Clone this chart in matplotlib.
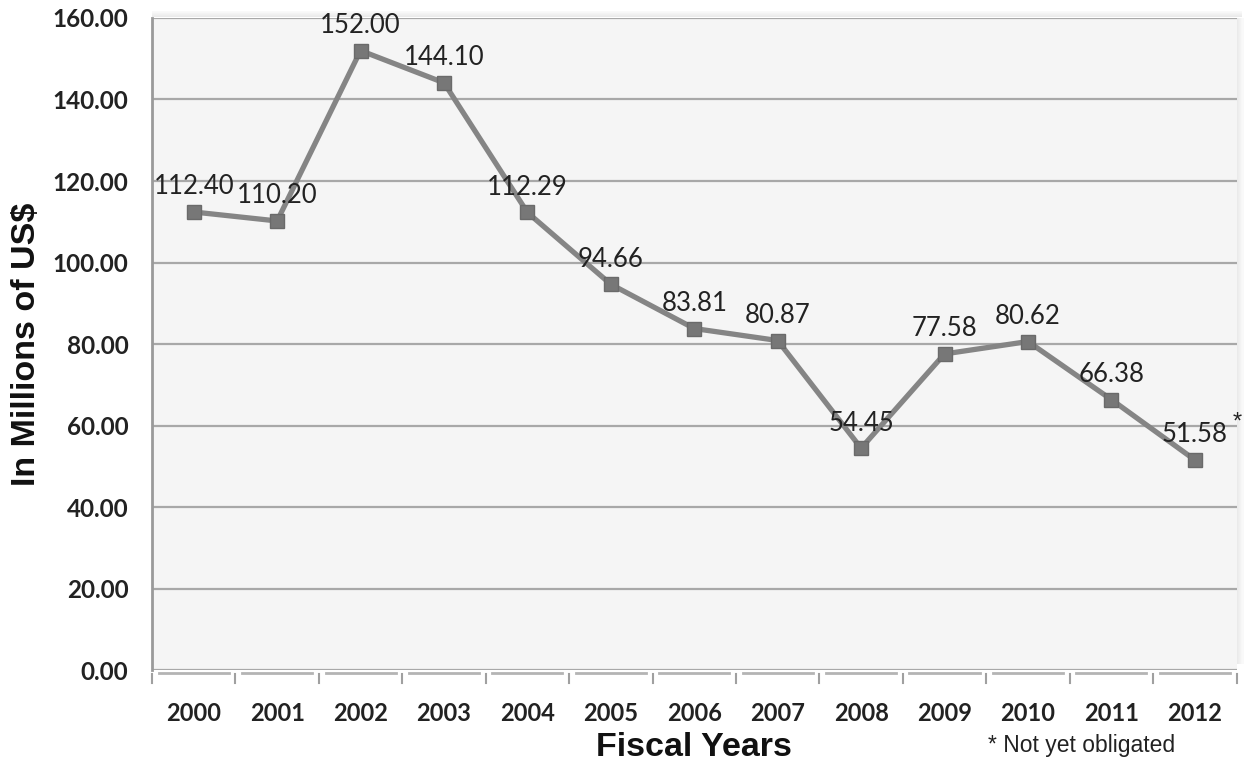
import matplotlib as mpl
import matplotlib.pyplot as plt
import matplotlib.transforms as mtransforms
from matplotlib.patches import Rectangle
import numpy as np

years = ['2000', '2001', '2002', '2003', '2004', '2005', '2006',
         '2007', '2008', '2009', '2010', '2011', '2012']
funding = [112.40, 110.20, 152.00, 144.10, 112.29, 94.66, 83.81,
           80.87, 54.45, 77.58, 80.62, 66.38, 51.58]
flagged = ['2012']   # not yet obligated
yticks = [0, 20, 40, 60, 80, 100, 120, 140, 160]

mpl.rcParams['font.family'] = ['Lato', 'DejaVu Sans']

fig = plt.figure(figsize=(12.49, 7.65), dpi=100)
ax = fig.add_axes([0.1217, 0.124, 0.8683, 0.8525])
ax.set_facecolor('#f5f5f5')

x = np.arange(len(years))
ax.plot(x, funding, color='#858585', lw=3.8, marker='s', ms=10.5,
        mfc='#777777', mec='#6a6a6a', mew=1, zorder=4, clip_on=False)

for xi, yr, v in zip(x, years, funding):
    txt = '%.2f' % v
    ax.annotate(txt, (xi, v), xytext=(0, 9), textcoords='offset points',
                ha='center', va='bottom', fontsize=18.5, color='#222222', zorder=5)
    if yr in flagged:
        ax.annotate('*', (xi, v), xytext=(27, 27), textcoords='offset points',
                    ha='left', va='center', fontsize=17, color='#222222',
                    family='Liberation Sans')

ax.set_xlim(-0.5, len(years) - 0.5)
ax.set_ylim(0, 160)
ax.set_yticks(yticks)
ax.set_yticklabels(['%.2f' % t for t in yticks], fontsize=17.5, fontweight='bold',
                   color='#222222')
ax.set_xticks(x)
ax.set_xticklabels(years, fontsize=17, fontweight='bold', color='#222222')
ax.tick_params(axis='y', length=0, pad=17)
ax.tick_params(axis='x', length=0, pad=23)
ax.grid(axis='y', color='#a8a8a8', lw=1.6)
ax.set_axisbelow(True)

for s in ['top', 'right', 'bottom']:
    ax.spines[s].set_visible(False)
ax.spines['left'].set_color('#9a9a9a')
ax.spines['left'].set_linewidth(2)

# soft frame shadow on top and right side
for k in range(6):
    a = 0.05 + 0.03 * k
    ax.add_patch(Rectangle((0, 1.0 + 0.0016 * (6 - k)), 1.0 + 0.005, 0.0016,
                           transform=ax.transAxes, color='#9a9a9a', alpha=a,
                           lw=0, clip_on=False))
    ax.add_patch(Rectangle((1.0 + 0.0011 * (5 - k), 0.01), 0.0011, 0.99,
                           transform=ax.transAxes, color='#9a9a9a', alpha=a,
                           lw=0, clip_on=False))

# category axis drawn as separate segments with boundary ticks
trans = mtransforms.blended_transform_factory(ax.transData, ax.transAxes)
for i in range(len(years)):
    ax.plot([i - 0.42, i + 0.42], [-0.004, -0.004], transform=trans,
            color='#b4b4b4', lw=2, clip_on=False)
for b in np.arange(-0.5, len(years), 1.0):
    ax.plot([b, b], [-0.006, -0.02], transform=trans, color='#a0a0a0',
            lw=1.5, clip_on=False)

ax.set_ylabel('In Millions of US$', fontsize=24.5, fontweight='bold',
              family='Liberation Sans', labelpad=8, color='#111111')
ax.set_xlabel('Fiscal Years', fontsize=24.5, fontweight='bold',
              family='Liberation Sans', labelpad=5, color='#111111')
fig.text(0.941, 0.026, '* Not yet obligated', ha='right', va='center',
         fontsize=16.5, family='Liberation Sans', color='#222222')

fig.savefig('out.png', dpi=100)
